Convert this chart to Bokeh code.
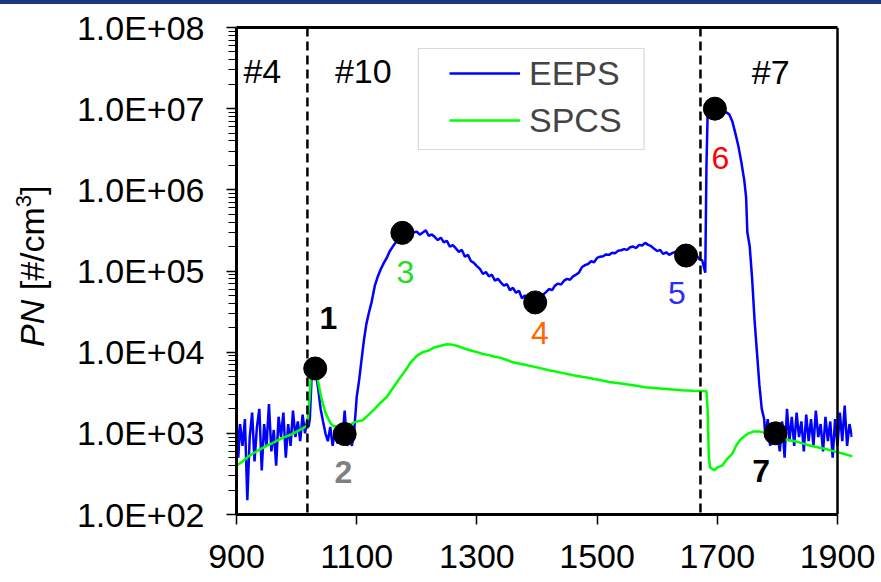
from bokeh.plotting import figure
from bokeh.layouts import row, column
from bokeh.models import (Range1d, LogAxis, LinearAxis, FixedTicker, Span, Label, Legend,
                          LegendItem, BoxAnnotation, CustomJSTickFormatter, Div)
from bokeh.embed import file_html
from bokeh.resources import INLINE

# ---------------- data ----------------
# EEPS, test #4 (noisy background)
eeps_x_a = [900, 903, 906, 910, 914, 918, 922, 926, 930, 934, 938, 942, 946, 950, 954, 958, 962,
            966, 970, 974, 978, 982, 986, 990, 994, 998, 1002, 1006, 1010, 1014, 1018]
eeps_pn_a = [1700, 500, 1300, 700, 1500, 150, 900, 1800, 450, 1200, 2000, 350, 1300, 700, 2300,
             600, 1100, 400, 1600, 900, 1800, 500, 1300, 700, 1900, 900, 1400, 800, 1700, 1000,
             1500]
# EEPS, test #10 start: peak 1, dip 2 and rise to 3
eeps_x_b = [1020, 1022, 1025, 1028, 1032, 1036, 1040, 1044, 1048, 1052, 1056, 1060, 1064, 1068,
            1072, 1076, 1080, 1084, 1088, 1092, 1096, 1100, 1104, 1108, 1112, 1116, 1120, 1125,
            1130, 1135, 1140, 1145, 1150, 1155, 1160, 1165, 1170, 1175]
eeps_pn_b = [1200, 1500, 5000, 6000, 5500, 3500, 2000, 1400, 1000, 800, 1200, 700, 1100, 750,
             1300, 800, 1900, 700, 1000, 700, 1100, 2800, 4500, 8000, 14000, 22000, 30000, 42000,
             65000, 85000, 105000, 125000, 145000, 175000, 200000, 225000, 250000, 285000]
# EEPS, test #10 body (3 -> 4 -> 5)
eeps_x_c = [1180, 1185, 1190, 1195, 1200, 1205, 1210, 1215, 1220, 1225, 1230, 1235, 1240, 1245,
            1250, 1255, 1260, 1265, 1270, 1275, 1280, 1285, 1290, 1295, 1300, 1305, 1310, 1315,
            1320, 1325, 1330, 1335, 1340, 1345, 1350, 1355, 1360, 1365, 1370, 1375, 1380, 1385,
            1390, 1395, 1400, 1405, 1410, 1415, 1420, 1425, 1430, 1435, 1440, 1445, 1450, 1455,
            1460, 1465, 1470, 1475, 1480, 1485, 1490, 1495, 1500, 1505, 1510, 1515, 1520, 1525,
            1530, 1535, 1540, 1545, 1550, 1555, 1560, 1565, 1570, 1575, 1580, 1585, 1590, 1595,
            1600, 1605, 1610, 1615, 1620, 1625, 1630, 1635, 1640, 1645, 1650, 1655, 1660, 1665,
            1670, 1675, 1680]
eeps_pn_c = [290000, 310000, 282000, 300000, 305000, 280000, 298000, 318000, 270000, 282000,
             262000, 240000, 258000, 225000, 236000, 200000, 208000, 190000, 172000, 182000,
             150000, 158000, 133000, 126000, 115000, 106000, 92000, 97000, 86000, 90000, 76000,
             80000, 72000, 66000, 69000, 58000, 62000, 54000, 57000, 46000, 50000, 44000, 47000,
             40000, 42000, 48000, 51000, 55000, 60000, 58000, 66000, 70000, 68000, 76000, 80000,
             78000, 86000, 90000, 96000, 112000, 118000, 122000, 132000, 128000, 145000, 150000,
             152000, 160000, 158000, 168000, 165000, 178000, 180000, 186000, 182000, 196000,
             200000, 192000, 210000, 206000, 222000, 210000, 202000, 188000, 176000, 182000,
             162000, 170000, 158000, 166000, 172000, 162000, 176000, 160000, 166000, 158000,
             150000, 158000, 140000, 135000, 95000]
# EEPS, test #7: peak 6 and decay to 7
eeps_x_d = [1682, 1684, 1690, 1696, 1700, 1705, 1710, 1715, 1720, 1725, 1730, 1735, 1740, 1745,
            1748, 1750, 1754, 1758, 1762, 1766, 1770, 1774, 1778, 1780, 1784, 1788, 1792, 1796,
            1800, 1804, 1808, 1812, 1816, 1820, 1824, 1828, 1832, 1836, 1840, 1844, 1848, 1852,
            1856, 1860, 1864, 1868, 1872, 1876, 1880, 1884, 1888, 1892, 1896, 1900, 1904, 1908,
            1912, 1916, 1920, 1924]
eeps_pn_d = [2000000, 9000000, 10500000, 11000000, 10500000, 10000000, 9500000, 9000000,
             8500000, 7000000, 5000000, 3500000, 2200000, 1300000, 800000, 300000, 200000, 80000,
             25000, 10000, 4000, 2000, 1500, 900, 1500, 700, 1300, 800, 1000, 600, 1400, 500,
             2000, 800, 1600, 700, 1800, 900, 1400, 600, 1700, 800, 1500, 700, 1900, 900, 1300,
             600, 1600, 800, 1400, 500, 1500, 700, 1800, 800, 2200, 700, 1300, 900]

spcs_x = [900, 910, 920, 930, 940, 950, 960, 970, 980, 990, 1000, 1010, 1018, 1022,
          1025, 1028, 1032, 1036, 1040, 1044, 1048, 1052, 1056, 1060, 1070, 1080, 1090, 1100, 1110,
          1120, 1130, 1140, 1150, 1160, 1170, 1180, 1190, 1200, 1210, 1220, 1230, 1240, 1250, 1260,
          1270, 1280, 1290, 1300, 1310, 1320, 1330, 1340, 1350, 1360, 1380, 1400, 1420, 1440, 1460,
          1480, 1500, 1520, 1540, 1560, 1580, 1600, 1620, 1640, 1660, 1682, 1684, 1686, 1688, 1695,
          1700, 1708, 1716, 1725, 1732, 1738, 1745, 1752, 1760, 1770, 1780, 1790, 1800, 1810, 1820,
          1835, 1850, 1865, 1880, 1895, 1910, 1925]
spcs_pn = [400, 450, 520, 580, 640, 700, 760, 830, 900, 960, 1050, 1150, 1250, 3000,
           8000, 7500, 6000, 4300, 3000, 2300, 1800, 1550, 1350, 1250, 1180, 1200, 1300, 1400, 1450,
           1700, 2000, 2400, 2800, 3600, 4600, 5800, 7500, 9000, 10000, 10500, 11500, 12000, 12500,
           12300, 11800, 11000, 10500, 10000, 9500, 9200, 8800, 8500, 8000, 7500, 7000, 6500, 6000,
           5600, 5200, 4900, 4600, 4300, 4100, 3900, 3700, 3600, 3500, 3400, 3350, 3300, 1900, 500,
           380, 350, 380, 400, 480, 560, 720, 830, 920, 1000, 1050, 1050, 1020, 980, 940, 870, 820,
           780, 720, 680, 640, 600, 560, 520]

point_ids = ["1", "2", "3", "4", "5", "6", "7"]
point_x = [1031, 1080, 1176, 1397, 1648, 1696, 1797]
point_pn = [6300, 980, 295000, 41000, 155000, 10000000, 1000]

x_ticks = [900, 1100, 1300, 1500, 1700, 1900]
y_ticks = [1e2, 1e3, 1e4, 1e5, 1e6, 1e7, 1e8]
transitions = [1018, 1672]
test_names = ["#4", "#10", "#7"]

eeps_x = eeps_x_a + eeps_x_b + eeps_x_c + eeps_x_d
eeps_pn = eeps_pn_a + eeps_pn_b + eeps_pn_c + eeps_pn_d

# ---------------- annotation positions / styles ----------------
test_label_x = [943, 1111, 1789]
test_label_y = [2.95e7, 2.95e7, 2.87e7]
num_label_x = [1053, 1078, 1181, 1405, 1633, 1705, 1773]
num_label_y = [26000, 330, 95900, 17460, 54300, 2.5e6, 348]
num_colors = ["black", "#808080", "#22dd22", "#ff6600", "#2b2bff", "#ff0000", "black"]
num_styles = ["bold", "bold", "normal", "normal", "normal", "normal", "bold"]

FONT = "Liberation Sans"
FS = "34px"
BAND_H = 4
LABEL_W = 60

p = figure(width=881 - LABEL_W, height=582 - BAND_H, x_range=Range1d(900, 1925),
           y_range=Range1d(1e2, 1e8), y_axis_type="log", output_backend="svg",
           toolbar_location=None, min_border_left=236 - LABEL_W, min_border_right=29,
           min_border_top=27 - BAND_H, min_border_bottom=68,
           outline_line_color=None, background_fill_color="white", border_fill_color="white")
p.grid.visible = False

yax = p.yaxis[0]
minor = [m * d for d in y_ticks[:-1] for m in range(2, 10)]
yax.ticker = FixedTicker(ticks=y_ticks, minor_ticks=minor)
yax.formatter = CustomJSTickFormatter(code="""
const e = Math.round(Math.log10(tick));
return "1.0E+" + String(e).padStart(2, "0");
""")
yax.major_label_text_font = FONT
yax.major_label_text_font_size = FS
yax.major_label_text_color = "black"
yax.major_label_standoff = 22
yax.major_tick_out = 10
yax.major_tick_in = 0
yax.minor_tick_out = 8
yax.minor_tick_in = 0
yax.major_tick_line_width = 1.5
yax.minor_tick_line_width = 1
yax.axis_line_width = 3

xax = p.xaxis[0]
xax.ticker = FixedTicker(ticks=x_ticks, minor_ticks=[])
xax.bounds = (900, 1900)
xax.major_label_text_font = FONT
xax.major_label_text_font_size = FS
xax.major_label_text_color = "black"
xax.major_label_standoff = 20
xax.major_tick_out = 10
xax.major_tick_in = 0
xax.major_tick_line_width = 1.5
xax.minor_tick_line_color = None
xax.axis_line_width = 3

top = LinearAxis(ticker=FixedTicker(ticks=[]), bounds=(900, 1900), axis_line_width=3,
                 major_tick_line_color=None, minor_tick_line_color=None,
                 major_label_text_font_size="0px")
p.add_layout(top, "above")
right = LogAxis(ticker=FixedTicker(ticks=[]), fixed_location=1900, axis_line_width=2.5,
                major_tick_line_color=None, minor_tick_line_color=None,
                major_label_text_font_size="0px")
p.add_layout(right, "right")

for t in transitions:
    p.add_layout(Span(location=t, dimension="height", line_color="black",
                      line_dash="9 5", line_width=2.5))

r_eeps = p.line(eeps_x, eeps_pn, line_color="#0000ff", line_width=2.5)
r_spcs = p.line(spcs_x, spcs_pn, line_color="#00ff00", line_width=2.5)
p.scatter(point_x, point_pn, size=23, color="black")

for name, lx, ly in zip(test_names, test_label_x, test_label_y):
    p.add_layout(Label(x=lx, y=ly, text=name, text_align="center", text_baseline="middle",
                       text_font=FONT, text_font_size=FS, text_color="black"))

for pid, lx, ly, c, st in zip(point_ids, num_label_x, num_label_y, num_colors, num_styles):
    p.add_layout(Label(x=lx, y=ly, text=pid, text_align="center", text_baseline="middle",
                       text_font=FONT, text_font_size="32px", text_color=c,
                       text_font_style=st))

p.add_layout(BoxAnnotation(left=1202.6, right=1578.3, top=5.51e7, bottom=3.14e6,
                           fill_alpha=0, line_color="#808080", line_width=1.2))
legend = Legend(items=[LegendItem(label="EEPS", renderers=[r_eeps]),
                       LegendItem(label="SPCS", renderers=[r_spcs])],
                location=(213, 374), padding=0, margin=0, spacing=7, glyph_width=71,
                glyph_height=40, label_height=40, label_standoff=9, label_text_font=FONT,
                label_text_font_size=FS, border_line_color=None, background_fill_alpha=0)
p.add_layout(legend)

# y-axis title (mixed italic / superscript) as real HTML text
ylabel = Div(
    text=('<div style="position:absolute; left:15px; top:%dpx; transform:rotate(-90deg); '
          'transform-origin:left top; white-space:nowrap; line-height:1; '
          'font-family:\'Liberation Sans\'; font-size:34px; color:black;">'
          '<i>PN</i> [#/cm<span style="font-size:22px; position:relative; top:-13px;">3</span>]'
          '</div>') % (347 - BAND_H),
    width=LABEL_W, height=582 - BAND_H, styles={"position": "relative", "margin": "0"})

band = Div(text="", width=881, height=BAND_H,
           styles={"background-color": "#183a7c", "margin": "0"})

layout = column(band, row(ylabel, p, spacing=0), spacing=0)

open("out.html", "w").write(file_html(layout, INLINE))
